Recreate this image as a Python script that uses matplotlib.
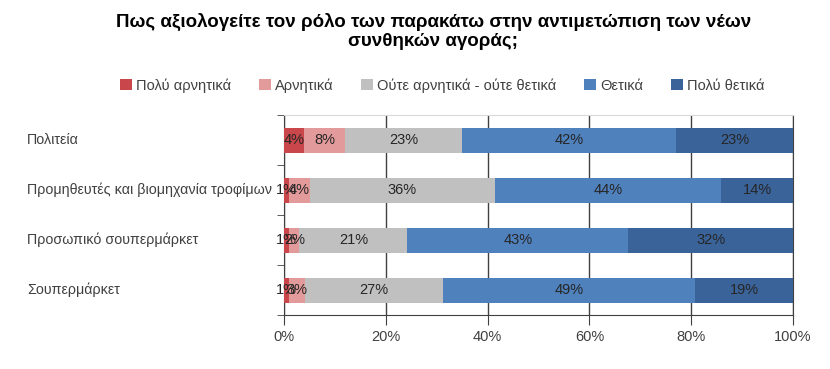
import matplotlib

matplotlib.use("Agg")
import matplotlib.pyplot as plt
import matplotlib.transforms as mtransforms
import numpy as np

CATEGORIES = [
    "Πολιτεία",
    "Προμηθευτές και βιομηχανία τροφίμων",
    "Προσωπικό σουπερμάρκετ",
    "Σουπερμάρκετ",
]
SERIES_NAMES = ["Πολύ αρνητικά", "Αρνητικά", "Ούτε αρνητικά - ούτε θετικά", "Θετικά", "Πολύ θετικά"]
very_negative = [4, 1, 1, 1]
negative = [8, 4, 2, 3]
neutral = [23, 36, 21, 27]
positive = [42, 44, 43, 49]
very_positive = [23, 14, 32, 19]
X_TICKS = [0, 20, 40, 60, 80, 100]

COLORS = ["#C9474A", "#E39A9B", "#C0C0C0", "#4F81BD", "#3A6399"]
TEXT = "#404040"

plt.rcParams["font.family"] = ["Liberation Sans", "DejaVu Sans"]

values = np.array([very_negative, negative, neutral, positive, very_positive], dtype=float)
shares = values / values.sum(axis=0) * 100

fig = plt.figure(figsize=(8.3, 3.69), dpi=100)
ax = fig.add_axes([284 / 830, 1 - 315 / 369, 509 / 830, 200 / 369])

y = np.arange(len(CATEGORIES))
left = np.zeros(len(CATEGORIES))
for k in range(len(SERIES_NAMES)):
    ax.barh(y, shares[k], left=left, height=0.5, color=COLORS[k], label=SERIES_NAMES[k], zorder=3)
    for i in range(len(CATEGORIES)):
        ax.text(left[i] + shares[k][i] / 2, y[i], f"{int(values[k][i])}%",
                ha="center", va="center", fontsize=10.5, color="#262626", zorder=4)
    left += shares[k]

ax.set_xlim(0, 100)
ax.set_ylim(len(CATEGORIES) - 0.5, -0.5)
ax.set_xticks(X_TICKS)
ax.set_xticklabels([f"{t}%" for t in X_TICKS], fontsize=10.5, color=TEXT)
ax.grid(axis="x", color=TEXT, lw=1, zorder=1)

# category labels sit left aligned near the figure edge
ax.set_yticks(y)
ax.set_yticklabels([])
ax.tick_params(axis="y", which="major", length=0)
label_tr = mtransforms.blended_transform_factory(fig.transFigure, ax.transData)
for i, name in enumerate(CATEGORIES):
    ax.text(27 / 830, y[i], name, transform=label_tr, ha="left", va="center",
            fontsize=10.3, color=TEXT)
ax.set_yticks(np.arange(-0.5, len(CATEGORIES), 1), minor=True)
ax.tick_params(axis="y", which="minor", length=5, color=TEXT, direction="out")
ax.tick_params(axis="x", length=7, color=TEXT, direction="out", pad=4)

ax.spines["top"].set_color("#D9D9D9")
ax.spines["right"].set_color(TEXT)
ax.spines["left"].set_color(TEXT)
ax.spines["bottom"].set_color(TEXT)
ax.spines["bottom"].set_zorder(5)

fig.text(0.522, 0.915, "Πως αξιολογείτε τον ρόλο των παρακάτω στην αντιμετώπιση των νέων\nσυνθηκών αγοράς;",
         ha="center", va="center", fontsize=13.5, fontweight="bold", linespacing=1.2)

fig.legend(loc="center", bbox_to_anchor=(0.533, 0.768), ncol=5, frameon=False, fontsize=10.5,
           handlelength=0.8, handleheight=0.8, handletextpad=0.3, columnspacing=1.9,
           labelcolor=TEXT)

fig.savefig("out.png", dpi=100)
